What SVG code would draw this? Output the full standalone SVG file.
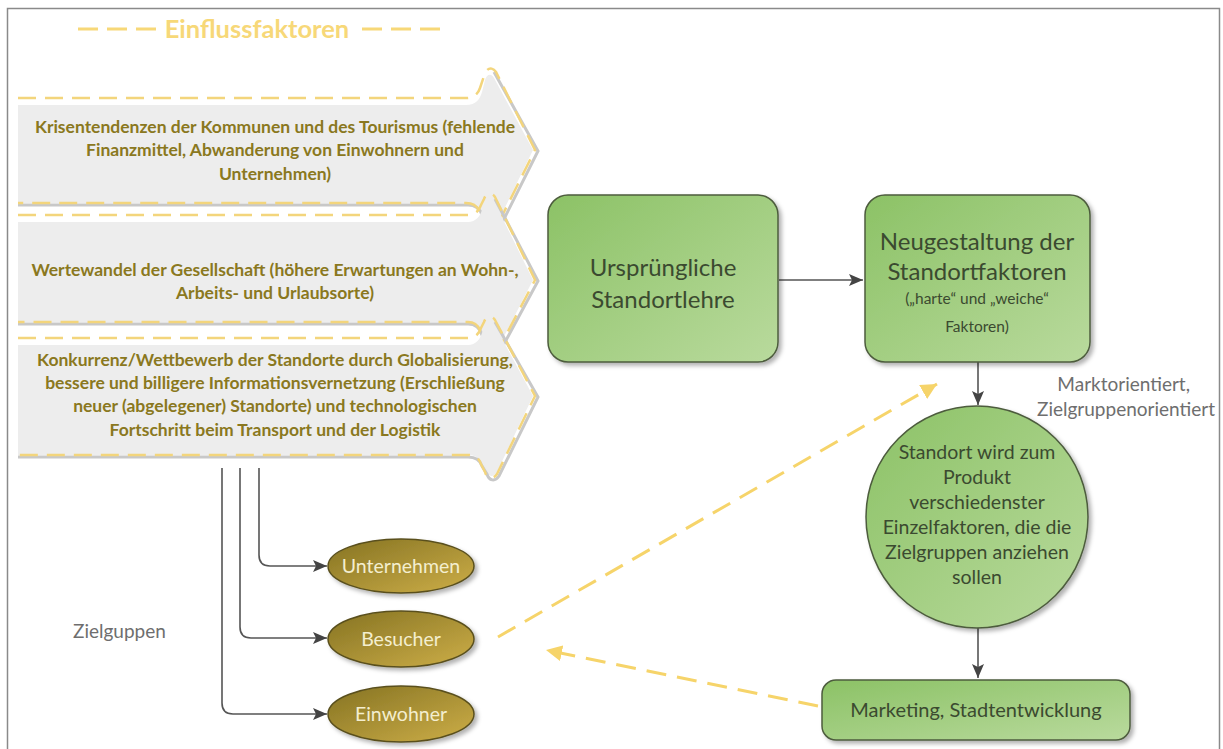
<svg xmlns="http://www.w3.org/2000/svg" width="1223" height="749" viewBox="0 0 1223 749">
<defs>
  <linearGradient id="gGreen" x1="0" y1="0" x2="1" y2="1">
    <stop offset="0" stop-color="#8CC266"/>
    <stop offset="1" stop-color="#B9DA9D"/>
  </linearGradient>
  <linearGradient id="gGold" x1="0" y1="0" x2="1" y2="1">
    <stop offset="0" stop-color="#857322"/>
    <stop offset="1" stop-color="#CDAE48"/>
  </linearGradient>
  <filter id="sh" x="-10%" y="-10%" width="130%" height="130%">
    <feDropShadow dx="3" dy="3" stdDeviation="2" flood-color="#000" flood-opacity="0.3"/>
  </filter>
  <marker id="aDark" markerUnits="userSpaceOnUse" markerWidth="14" markerHeight="12" refX="14" refY="6" orient="auto">
    <path d="M0,0 L14,6 L0,12 L3,6 Z" fill="#444"/>
  </marker>
  <marker id="aYel" markerUnits="userSpaceOnUse" markerWidth="18" markerHeight="16" refX="16" refY="8" orient="auto">
    <path d="M0,0 L16,8 L0,16 Z" fill="#F6D46A"/>
  </marker>
  <style>
    .frame{fill:none;stroke:#8a8a8a;stroke-width:1.5}
    .title{font-family:Lato,"Liberation Sans",sans-serif;font-weight:bold;font-size:25.5px;fill:#F7D878}
    .tdash{stroke:#F7D878;stroke-width:3;stroke-dasharray:20 9}
    .bfill{fill:#EDEDED}
    .bshadow{fill:none;stroke:#C8C8C8;stroke-width:3}
    .bline{fill:none;stroke:#F3D57C;stroke-width:2.5;stroke-dasharray:18 9}
    .btext{font-family:Lato,"Liberation Sans",sans-serif;font-weight:bold;font-size:17.5px;fill:#8A7820;text-anchor:middle}
    .green{fill:url(#gGreen);stroke:#4D5C3E;stroke-width:1.5;filter:url(#sh)}
    .gold{fill:url(#gGold);stroke:#5A501E;stroke-width:1.5;filter:url(#sh)}
    .gtext{font-family:Lato,"Liberation Sans",sans-serif;fill:#3B4A30;text-anchor:middle}
    .etext{font-family:Lato,"Liberation Sans",sans-serif;font-size:19.5px;fill:#F4EECF;text-anchor:middle}
    .label{font-family:Lato,"Liberation Sans",sans-serif;font-size:19px;fill:#6E6E6E}
    .conn{fill:none;stroke:#555;stroke-width:1.6}
    .yconn{fill:none;stroke:#F6D46A;stroke-width:3;stroke-dasharray:20 11}
  </style>
</defs>
<rect width="1223" height="749" fill="#fff"/>
<path class="frame" d="M7.5,749 V8.5 H1219.5 V749"/>

<g id="title">
  <line class="tdash" x1="78" y1="29" x2="158" y2="29"/>
  <text class="title" x="257" y="38" text-anchor="middle">Einflussfaktoren</text>
  <line class="tdash" x1="362" y1="29" x2="441" y2="29"/>
</g>

<g id="banner1">
  <path class="bfill" d="M18,105 L466,105 C476,105 480,99 482,92 L485,80 C487,74 491,73 494,78 L533,150 L496,226 C492,232 487,230 485,223 L481,213 C479,207 474,203 466,203 L18,203 Z"/>
  <path class="bshadow" d="M494,72 L538,151 L498,231 C494,237 488,235 486,227 L482,215 C480,209 476,205 468,205 L18,205"/>
  <path class="bline" d="M18,98 L466,98 C474,98 478,94 480,88 L484,76 C486,68 492,66 496,72 L535,150 L496,228 C492,234 486,232 484,224 L480,213 C478,207 474,203 466,203 L18,203"/>
  <text class="btext" x="275" y="133">Krisentendenzen der Kommunen und des Tourismus (fehlende</text>
  <text class="btext" x="275" y="156">Finanzmittel, Abwanderung von Einwohnern und</text>
  <text class="btext" x="275" y="180">Unternehmen)</text>
</g>

<g id="banner2">
  <path class="bfill" d="M18,222 L468,222 C476,222 480,216 482,210 L485,203 C487,198 491,198 494,201 L533,280 L496,352 C492,358 487,356 485,349 L481,334 C479,327 475,322 468,322 L18,322 Z"/>
  <path class="bshadow" d="M495,199 L538,281 L498,355 C494,361 488,359 486,351 L482,335 C480,328 476,324 468,324 L18,324"/>
  <path class="bline" d="M18,215 L468,215 C475,215 479,211 481,205 L484,199 C486,193 492,192 495,197 L535,280 L496,354 C492,360 486,358 484,350 L481,333 C479,326 475,322 468,322 L18,322"/>
  <text class="btext" x="275" y="276">Wertewandel der Gesellschaft (höhere Erwartungen an Wohn-,</text>
  <text class="btext" x="275" y="299">Arbeits- und Urlaubsorte)</text>
</g>

<g id="banner3">
  <path class="bfill" d="M18,345 L468,345 C476,345 480,339 482,333 L485,326 C487,321 491,321 494,324 L533,396 L497,472 C493,478 488,477 486,470 L481,464 C479,458 475,455 468,455 L18,455 Z"/>
  <path class="bshadow" d="M495,322 L538,397 L499,476 C495,482 489,481 487,474 L482,466 C480,460 476,457 468,457 L18,457"/>
  <path class="bline" d="M18,338 L468,338 C475,338 479,334 481,328 L484,322 C486,316 492,315 495,320 L535,396 L497,474 C493,480 487,479 485,472 L481,464 C479,458 475,455 468,455 L18,455"/>
  <text class="btext" x="275" y="366">Konkurrenz/Wettbewerb der Standorte durch Globalisierung,</text>
  <text class="btext" x="275" y="389">bessere und billigere Informationsvernetzung (Erschließung</text>
  <text class="btext" x="275" y="412">neuer (abgelegener) Standorte) und technologischen</text>
  <text class="btext" x="275" y="436">Fortschritt beim Transport und der Logistik</text>
</g>

<g id="connectors">
  <path class="conn" d="M779,280 H863" marker-end="url(#aDark)"/>
  <path class="conn" d="M978,362 V405" marker-end="url(#aDark)"/>
  <path class="conn" d="M978,628 V678" marker-end="url(#aDark)"/>
  <path class="conn" d="M259,468 V555 Q259,566 270,566 H327" marker-end="url(#aDark)"/>
  <path class="conn" d="M240,468 V627 Q240,638 251,638 H327" marker-end="url(#aDark)"/>
  <path class="conn" d="M222,468 V703 Q222,714 233,714 H327" marker-end="url(#aDark)"/>
  <path class="yconn" d="M498,637 L937,384" marker-end="url(#aYel)"/>
  <path class="yconn" d="M818,706 L546,650" marker-end="url(#aYel)"/>
</g>

<g id="box-ursprung">
  <rect class="green" x="548" y="195" width="230" height="167" rx="20"/>
  <text class="gtext" x="663" y="276" font-size="24">Ursprüngliche</text>
  <text class="gtext" x="663" y="308" font-size="24">Standortlehre</text>
</g>

<g id="box-neugestaltung">
  <rect class="green" x="865" y="195" width="225" height="167" rx="20"/>
  <text class="gtext" x="977" y="250" font-size="24">Neugestaltung der</text>
  <text class="gtext" x="977" y="280" font-size="24">Standortfaktoren</text>
  <text class="gtext" x="977" y="304" font-size="15.5">(„harte“ und „weiche“</text>
  <text class="gtext" x="977" y="332" font-size="15.5">Faktoren)</text>
</g>

<g id="label-markt">
  <text class="label" x="1190" y="391" text-anchor="end">Marktorientiert,</text>
  <text class="label" x="1215" y="416" text-anchor="end">Zielgruppenorientiert</text>
</g>

<g id="circle-produkt">
  <circle class="green" cx="977" cy="517" r="111"/>
  <text class="gtext" x="977" y="459" font-size="19.5">Standort wird zum</text>
  <text class="gtext" x="977" y="484" font-size="19.5">Produkt</text>
  <text class="gtext" x="977" y="509" font-size="19.5">verschiedenster</text>
  <text class="gtext" x="977" y="534" font-size="19.5">Einzelfaktoren, die die</text>
  <text class="gtext" x="977" y="559" font-size="19.5">Zielgruppen anziehen</text>
  <text class="gtext" x="977" y="584" font-size="19.5">sollen</text>
</g>

<g id="box-marketing">
  <rect class="green" x="822" y="680" width="308" height="60" rx="14"/>
  <text class="gtext" x="976" y="717" font-size="20">Marketing, Stadtentwicklung</text>
</g>

<g id="ell-unternehmen">
  <ellipse class="gold" cx="401" cy="566" rx="73" ry="27"/>
  <text class="etext" x="401" y="573">Unternehmen</text>
</g>
<g id="ell-besucher">
  <ellipse class="gold" cx="401" cy="639" rx="73" ry="28"/>
  <text class="etext" x="401" y="646">Besucher</text>
</g>
<g id="ell-einwohner">
  <ellipse class="gold" cx="401" cy="714" rx="73" ry="28"/>
  <text class="etext" x="401" y="721">Einwohner</text>
</g>

<g id="label-zielgruppen">
  <text class="label" x="73" y="638">Zielguppen</text>
</g>
</svg>
